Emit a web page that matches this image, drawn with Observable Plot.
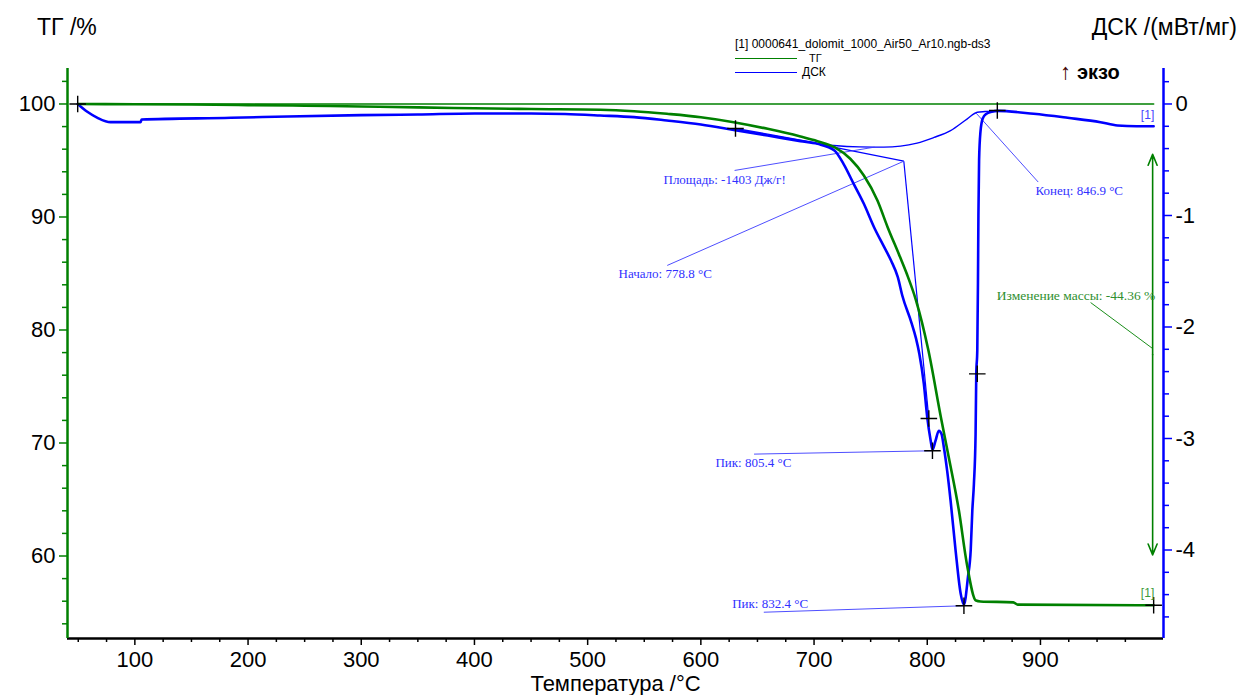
<!DOCTYPE html>
<html><head><meta charset="utf-8">
<script src="https://cdn.jsdelivr.net/npm/d3@7"></script>
<script src="https://cdn.jsdelivr.net/npm/@observablehq/plot@0.6"></script>
<style>
html,body{margin:0;padding:0;background:#fff;}
#wrap{position:relative;width:1240px;height:695px;overflow:hidden;font-family:'Liberation Sans',Arial,sans-serif;}
.lbl{position:absolute;line-height:1;white-space:nowrap;transform:translateY(-50%);color:#000;}
.lg{position:absolute;height:1px;}
</style></head><body>
<div id="wrap"><div id="chart"></div></div>
<script>
// ---------- data ----------
const tgTemp  = [50, 100, 150, 200, 250, 300, 350, 400, 450, 511, 541, 570, 600, 629, 659, 688, 703, 718, 732, 744, 756, 765, 776, 782, 790, 801, 812, 819, 828, 835, 843, 847, 876, 880, 1000];
const tgValue = [100, 99.98, 99.95, 99.9, 99.85, 99.78, 99.7, 99.62, 99.55, 99.49, 99.36, 99.13, 98.83, 98.39, 97.80, 97.12, 96.71, 96.18, 95.15, 93.67, 91.46, 89.1, 86.45, 84.95, 82.65, 78.2, 72.3, 68.74, 64.0, 59.3, 56.06, 55.98, 55.9, 55.7, 55.64];

const dscTemp  = [49.5, 58, 67, 78.5, 105, 106, 185, 235, 300, 350, 400, 450, 480, 511, 541, 570, 600, 629, 659, 688, 703, 718, 726, 735, 744, 753, 762, 768, 774, 778, 786, 790, 793, 797, 800, 803, 804.6, 807.3, 810.2, 812.6, 814.7, 817.6, 820.6, 825, 829.5, 832.4, 836, 838.4, 839.8, 841.2, 842.7, 843.3, 844.2, 844.8, 845.2, 845.8, 847, 849, 852, 857, 862, 894, 924, 953, 968, 985, 1000];
const dscValue = [0, -0.07, -0.124, -0.163, -0.163, -0.139, -0.124, -0.112, -0.10, -0.094, -0.085, -0.085, -0.09, -0.103, -0.118, -0.148, -0.184, -0.232, -0.283, -0.333, -0.357, -0.417, -0.537, -0.716, -0.895, -1.105, -1.284, -1.404, -1.553, -1.72, -1.96, -2.10, -2.24, -2.51, -2.81, -3.018, -3.10, -3.02, -2.93, -2.96, -3.08, -3.29, -3.556, -4.0, -4.39, -4.49, -4.24, -4.0, -3.65, -3.41, -2.96, -2.42, -2.21, -1.6, -1.0, -0.5, -0.25, -0.13, -0.09, -0.07, -0.062, -0.088, -0.124, -0.163, -0.193, -0.2, -0.2];

// area baseline of the DSC peak
const baseTemp  = [630.6, 659, 688, 703, 717.5, 740, 761.7, 791, 806, 820.6, 835.4, 844.2, 851, 862];
const baseValue = [-0.22, -0.27, -0.325, -0.355, -0.372, -0.385, -0.387, -0.351, -0.30, -0.238, -0.133, -0.074, -0.068, -0.062];

// TG reference level
const refTemp = [49.5, 1000];
const refValue = [100, 100];

// tangents (DSC units)
const tanT1 = [702.8, 779.3], tanD1 = [-0.357, -0.513];
const tanT2 = [779.3, 801.4], tanD2 = [-0.513, -2.82];

// evaluation markers
const markTemp = [630.6, 801.4, 804.6, 832.4, 844.2, 861.9];
const markDsc  = [-0.22, -2.82, -3.11, -4.50, -2.42, -0.058];
const tgMarkTemp = [49.5, 1000];
const tgMarkValue = [100, 55.64];

// DSC annotations: label, text position (T, DSC), leader from (T,DSC) to (T,DSC)
const dscLabels = ["Площадь: -1403 Дж/г!", "Начало: 778.8 °C", "Пик: 805.4 °C", "Пик: 832.4 °C", "Конец: 846.9 °C"];
const dscLabelT = [567, 527.3, 612.9, 627.7, 895.7];
const dscLabelD = [-0.68, -1.52, -3.215, -4.48, -0.775];
const leadT1 = [629.8, 570.3, 647, 655.6, 898];
const leadD1 = [-0.596, -1.448, -3.14, -4.558, -0.70];
const leadT2 = [753.4, 779.3, 804.6, 832.4, 843];
const leadD2 = [-0.387, -0.513, -3.11, -4.50, -0.08];

// mass change
const massLabel = "Изменение массы: -44.36 %";
const massLabelT = 1001.5, massLabelV = 83.05;
const massLeadT = [944.3, 999.1], massLeadV = [82.43, 78.36];
const massArrowT = 999.1, massArrowV = [95.54, 60.1];

// curve ids
const idLabel = "[1]";
const idBlueT = 1000.5, idBlueD = -0.103;
const idGreenT = 1000.5, idGreenV = 56.68;

// axes
const xTicks = [100, 200, 300, 400, 500, 600, 700, 800, 900];
const tgTicks = [60, 70, 80, 90, 100];
const dscTicks = [0, -1, -2, -3, -4];

// ---------- scales ----------
const green = "#008000", blue = "#0000ff";
const xDomain = [40.5, 1008.7];
const yDomain = [52.70, 103.14];
const K = 111.5 / 11.3;            // px per mW/mg  /  px per %
const toY = d => 100 + d * K;       // DSC -> left scale
const fromY = v => (v - 100) / K;

const minorX = d3.range(50, 1001, 25).filter(t => t % 100 !== 0);
const minorTG = d3.range(54, 103, 2).filter(v => v % 10 !== 0);
const minorDSC = d3.range(-23, 2).map(i => i * 0.2).filter(v => Math.abs(v - Math.round(v)) > 1e-6);

const tgRows = tgTemp.map((t, i) => ({t, v: tgValue[i]}));
const dscRows = dscTemp.map((t, i) => ({t, v: toY(dscValue[i])}));
const baseRows = baseTemp.map((t, i) => ({t, v: toY(baseValue[i])}));
const refRows = refTemp.map((t, i) => ({t, v: refValue[i]}));
const tangents = [
  {x1: tanT1[0], y1: toY(tanD1[0]), x2: tanT1[1], y2: toY(tanD1[1])},
  {x1: tanT2[0], y1: toY(tanD2[0]), x2: tanT2[1], y2: toY(tanD2[1])}
];
const marks = markTemp.map((t, i) => ({t, v: toY(markDsc[i])}))
  .concat(tgMarkTemp.map((t, i) => ({t, v: tgMarkValue[i]})));
const labels = dscLabels.map((s, i) => ({s, t: dscLabelT[i], v: toY(dscLabelD[i])}));
const leaders = dscLabels.map((s, i) => ({x1: leadT1[i], y1: toY(leadD1[i]), x2: leadT2[i], y2: toY(leadD2[i])}));
const arrowMid = (massArrowV[0] + massArrowV[1]) / 2;

const serif = "'Liberation Serif','Times New Roman',serif";

const chart = Plot.plot({
  width: 1240, height: 695,
  marginLeft: 67, marginRight: 77, marginTop: 68, marginBottom: 57,
  style: {fontFamily: "'Liberation Sans',Arial,sans-serif", background: "white", overflow: "visible"},
  x: {domain: xDomain},
  y: {domain: yDomain},
  marks: [
    // axis lines
    Plot.ruleY([yDomain[0]], {stroke: "black", strokeWidth: 2.5}),
    Plot.ruleX([xDomain[0]], {stroke: green, strokeWidth: 2.5}),
    Plot.ruleX([xDomain[1]], {stroke: blue, strokeWidth: 2.5}),
    // bottom axis
    Plot.axisX(xTicks, {tickSize: 7, tickPadding: 6, fontSize: 22, stroke: "black", fill: "black", strokeWidth: 1.5, label: null, tickFormat: d => String(d)}),
    Plot.axisX(minorX, {tickSize: 4, stroke: "black", strokeWidth: 1.5, label: null, tickFormat: () => ""}),
    // left TG axis
    Plot.axisY(tgTicks, {anchor: "left", tickSize: 8, tickPadding: 4, fontSize: 22, stroke: green, fill: "black", strokeWidth: 1.5, label: null, tickFormat: d => String(d)}),
    Plot.axisY(minorTG, {anchor: "left", tickSize: 5, stroke: green, strokeWidth: 1.5, label: null, tickFormat: () => ""}),
    // right DSC axis
    Plot.axisY(dscTicks.map(toY), {anchor: "right", tickSize: 8, tickPadding: 4, fontSize: 22, stroke: blue, fill: "black", strokeWidth: 1.5, label: null, tickFormat: v => String(Math.round(fromY(v))).replace("−", "-")}),
    Plot.axisY(minorDSC.map(toY), {anchor: "right", tickSize: 5, stroke: blue, strokeWidth: 1.5, label: null, tickFormat: () => ""}),
    // axis title
    Plot.text(["Температура /°C"], {frameAnchor: "bottom", dy: 52, fontSize: 22, fill: "black", text: d => d}),
    // TG reference line
    Plot.line(refRows, {x: "t", y: "v", stroke: green, strokeWidth: 1.6}),
    // DSC baseline and tangents
    Plot.line(baseRows, {x: "t", y: "v", stroke: blue, strokeWidth: 1.4, curve: "monotone-x"}),
    Plot.link(tangents, {x1: "x1", y1: "y1", x2: "x2", y2: "y2", stroke: blue, strokeWidth: 1.2}),
    // leaders
    Plot.link(leaders, {x1: "x1", y1: "y1", x2: "x2", y2: "y2", stroke: "#3a3aff", strokeWidth: 0.9}),
    Plot.link([{x1: massLeadT[0], y1: massLeadV[0], x2: massLeadT[1], y2: massLeadV[1]}], {x1: "x1", y1: "y1", x2: "x2", y2: "y2", stroke: green, strokeWidth: 0.9}),
    // curves
    Plot.line(dscRows, {x: "t", y: "v", stroke: blue, strokeWidth: 2.6, curve: "monotone-x"}),
    Plot.line(tgRows, {x: "t", y: "v", stroke: green, strokeWidth: 2.6, curve: "monotone-x"}),
    // mass-change arrow
    Plot.arrow([{y1: arrowMid, y2: massArrowV[0]}, {y1: arrowMid, y2: massArrowV[1]}], {x1: massArrowT, x2: massArrowT, y1: "y1", y2: "y2", stroke: green, strokeWidth: 1.6, headLength: 11, headAngle: 45}),
    // markers
    Plot.dot(marks, {x: "t", y: "v", symbol: "plus", r: 5.4, stroke: "black", strokeWidth: 1.4}),
    // labels
    Plot.text(labels, {x: "t", y: "v", text: "s", textAnchor: "start", fill: "#3030ff", fontFamily: serif, fontSize: 13}),
    Plot.text([massLabel], {x: massLabelT, y: massLabelV, text: d => d, textAnchor: "end", fill: "#2f8f2f", fontFamily: serif, fontSize: 13.5}),
    Plot.text([idLabel], {x: idBlueT, y: toY(idBlueD), text: d => d, textAnchor: "end", fill: "#4444ff", fontSize: 12}),
    Plot.text([idLabel], {x: idGreenT, y: idGreenV, text: d => d, textAnchor: "end", fill: "#3a9a3a", fontSize: 12})
  ]
});
document.getElementById("chart").append(chart);

// header texts and legend (outside plot area)
const wrap = document.getElementById("wrap");
function addLabel(text, css) {
  const d = document.createElement("div");
  d.className = "lbl"; d.textContent = text; d.style.cssText += css; wrap.append(d); return d;
}
function addLine(css) {
  const d = document.createElement("div");
  d.className = "lg"; d.style.cssText += css; wrap.append(d);
}
addLabel("ТГ /%", "left:37px;top:27px;font-size:23px;");
addLabel("ДСК /(мВт/мг)", "right:3px;top:27px;font-size:23px;");
addLabel("[1] 0000641_dolomit_1000_Air50_Ar10.ngb-ds3", "left:735px;top:44px;font-size:12px;");
addLine("left:735px;top:58px;width:62px;background:" + green + ";");
addLabel("ТГ", "left:809px;top:57.5px;font-size:11px;");
addLine("left:735px;top:72px;width:62px;background:" + blue + ";");
addLabel("ДСК", "left:802px;top:72px;font-size:12px;");
addLabel("↑", "left:1060px;top:72px;font-size:22px;color:#400;");
addLabel("экзо", "left:1077px;top:72px;font-size:20px;font-weight:bold;");
</script>
</body></html>
